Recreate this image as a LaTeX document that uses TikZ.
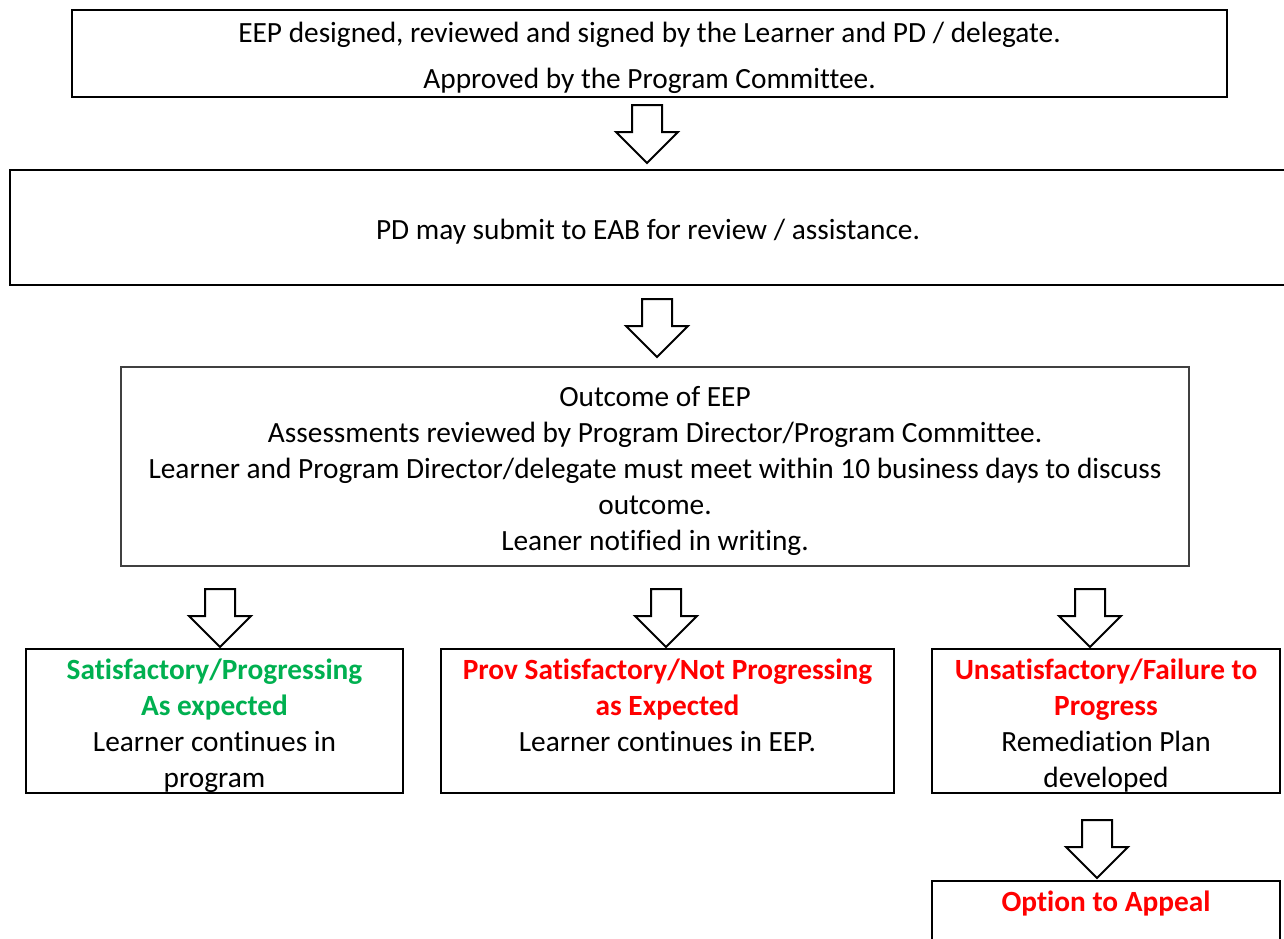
\documentclass[tikz,border=0pt]{standalone}
\usepackage{fontspec}
\setmainfont{Carlito}[Ligatures=NoCommon]
\usetikzlibrary{positioning, shapes.arrows}
\definecolor{okgreen}{RGB}{0,176,80}
\definecolor{badred}{RGB}{255,0,0}
\newcommand{\pxu}{0.375pt}
\newcommand{\good}[1]{\textcolor{okgreen}{\textbf{#1}}}
\newcommand{\bad}[1]{\textcolor{badred}{\textbf{#1}}}
\newcommand{\topline}{\rule{0pt}{11pt}}

\begin{document}
\begin{tikzpicture}[x=0.375pt, y=-0.375pt,
	every node/.style={font=\fontsize{11}{13.5}\selectfont},
	box/.style={rectangle, draw, line width=0.75pt, align=center, inner sep=0pt},
	outcomebox/.style={box, draw=black!75, line width=0.4pt},
	downarrow/.style={single arrow, draw, line width=0.75pt, fill=white, inner sep=14*\pxu,
		shape border rotate=270, minimum height=58*\pxu, minimum width=60*\pxu,
		single arrow head extend=16*\pxu, single arrow head indent=0pt, anchor=tail}]
		
		\useasboundingbox (0,0) rectangle (1284,938);
		\clip (0,0) rectangle (1284,938);
		
		%Boxes
		\node (EEP) at (649.5,53.5) [box, minimum width=1155*\pxu, minimum height=87*\pxu]
		{\topline EEP designed, reviewed and signed by the Learner and PD / delegate.\\[3.75pt]
		Approved by the Program Committee.};
		
		\node (EAB) at (648,227.5) [box, minimum width=1276*\pxu, minimum height=115*\pxu]
		{\topline PD may submit to EAB for review / assistance.};
		
		\node (outcome) at (655,466.5) [outcomebox, minimum width=1068*\pxu, minimum height=199*\pxu]
		{\topline Outcome of EEP\\
		Assessments reviewed by Program Director/Program Committee.\\
		Learner and Program Director/delegate must meet within 10 business days to discuss\\
		outcome.\\
		Leaner notified in writing.};
		
		\node (sat) at (214.5,721) [box, minimum width=377*\pxu, minimum height=144*\pxu]
		{\topline\good{Satisfactory/Progressing}\\ \good{As expected}\\ Learner continues in\\ program};
		
		\node (prov) at (667.5,721) [box, minimum width=453*\pxu, minimum height=144*\pxu]
		{\topline\bad{Prov Satisfactory/Not Progressing}\\ \bad{as Expected}\\ Learner continues in EEP.\\ \vphantom{p}};
		
		\node (unsat) at (1106,721) [box, minimum width=348*\pxu, minimum height=144*\pxu]
		{\topline\bad{Unsatisfactory/Failure to}\\ \bad{Progress}\\ Remediation Plan\\ developed};
		
		\node (appeal) at (1106,880) [box, anchor=north, minimum width=348*\pxu,
		text height=11.25pt, text depth=40pt]{\bad{Option to Appeal}};
		
		%Arrows
		\node (toEAB) at (647,104) [downarrow] {};
		\node (toOutcome) at (657,298) [downarrow] {};
		\node (toSat) at (220,588) [downarrow] {};
		\node (toProv) at (666,588) [downarrow] {};
		\node (toUnsat) at (1090,588) [downarrow] {};
		\node (toAppeal) at (1097,819) [downarrow] {};
		
		\end{tikzpicture}
\end{document}
